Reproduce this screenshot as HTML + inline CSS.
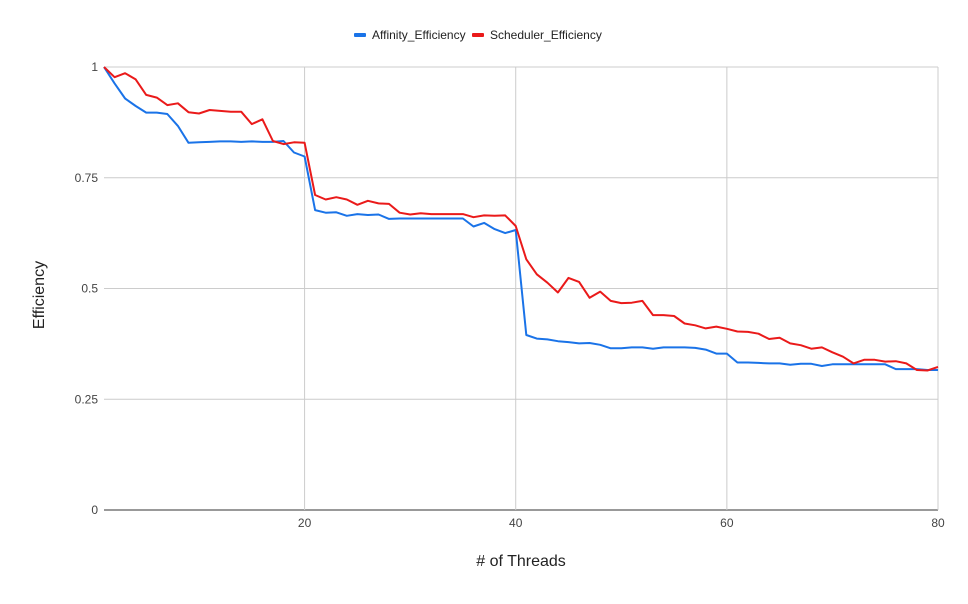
<!DOCTYPE html>
<html><head><meta charset="utf-8"><style>
body{margin:0;background:#fff;font-family:"Liberation Sans",Arial,sans-serif}
</style></head><body>
<svg id="chart" width="968" height="599" xmlns="http://www.w3.org/2000/svg" font-family="Liberation Sans, Arial, sans-serif">
<rect width="968" height="599" fill="#fff"/>
<g id="legend">
 <g><rect x="354" y="33" width="12" height="4" fill="#1a73e8" rx="1"/><text x="372" y="39" font-size="12" fill="#222">Affinity_Efficiency</text></g>
 <g><rect x="472" y="33" width="12" height="4" fill="#ea1a1a" rx="1"/><text x="490" y="39" font-size="12" fill="#222">Scheduler_Efficiency</text></g>
</g>
<g id="grid"></g>
<g id="series"></g>
<text transform="translate(44,295) rotate(-90)" text-anchor="middle" font-size="16" fill="#222">Efficiency</text>
<text x="521" y="566" text-anchor="middle" font-size="16" fill="#222"># of Threads</text>
</svg>
<script>
const xs=[];for(let i=1;i<=80;i++)xs.push(i);
const affinity=[1.0,0.963,0.929,0.912,0.897,0.897,0.894,0.867,0.829,0.83,0.831,0.832,0.832,0.831,0.832,0.831,0.831,0.833,0.807,0.798,
0.677,0.671,0.672,0.664,0.668,0.666,0.667,0.657,0.658,0.658,0.658,0.658,0.658,0.658,0.658,0.640,0.648,0.634,0.625,0.632,
0.395,0.387,0.385,0.381,0.379,0.376,0.377,0.373,0.365,0.365,0.367,0.367,0.364,0.367,0.367,0.367,0.366,0.362,0.353,0.353,
0.333,0.333,0.332,0.331,0.331,0.328,0.330,0.330,0.325,0.329,0.329,0.329,0.329,0.329,0.329,0.318,0.318,0.318,0.316,0.316];
const scheduler=[1.0,0.977,0.986,0.972,0.937,0.931,0.914,0.918,0.898,0.895,0.903,0.901,0.899,0.899,0.871,0.882,0.833,0.826,0.83,0.829,
0.711,0.701,0.706,0.701,0.689,0.698,0.692,0.691,0.671,0.667,0.670,0.668,0.668,0.668,0.668,0.661,0.665,0.664,0.665,0.641,
0.566,0.532,0.513,0.491,0.524,0.515,0.479,0.493,0.472,0.467,0.468,0.472,0.440,0.440,0.438,0.421,0.417,0.410,0.414,0.409,
0.403,0.402,0.398,0.386,0.389,0.376,0.372,0.364,0.367,0.356,0.346,0.331,0.339,0.339,0.335,0.336,0.331,0.316,0.315,0.323];
const yTicks=[0,0.25,0.5,0.75,1];
const yTickLabels=["0","0.25","0.5","0.75","1"];
const xTicks=[20,40,60,80];
const xTickLabels=["20","40","60","80"];
const X0=104,X1=938,Y0=510,Y1=67;
const sx=v=>X0+(v-1)/(80-1)*(X1-X0);
const sy=v=>Y0-v*(Y0-Y1);
const NS="http://www.w3.org/2000/svg";
const grid=document.getElementById('grid'),ser=document.getElementById('series');
function mk(tag,attrs,parent){const e=document.createElementNS(NS,tag);for(const k in attrs)e.setAttribute(k,attrs[k]);parent.appendChild(e);return e;}
yTicks.forEach((t,i)=>{
 const l=mk('line',{x1:X0,x2:X1,y1:sy(t),y2:sy(t),stroke:t===0?'#333':'#ccc','stroke-width':1},grid);
 
 
 const tx=mk('text',{x:98,y:sy(t)+4,'text-anchor':'end','font-size':12,fill:'#444'},grid);
 tx.textContent=yTickLabels[i];
 
 
});
xTicks.forEach((t,i)=>{
 const l=mk('line',{x1:sx(t),x2:sx(t),y1:Y1,y2:Y0,stroke:'#ccc','stroke-width':1},grid);
 
 
 const tx=mk('text',{x:sx(t),y:527,'text-anchor':'middle','font-size':12,fill:'#444'},grid);
 tx.textContent=xTickLabels[i];
 
 
});
function line(vals,color,name){
 const d=vals.map((v,i)=>(i?'L':'M')+sx(xs[i]).toFixed(1)+','+sy(v).toFixed(1)).join('');
 const p=mk('path',{d:d,fill:'none',stroke:color,'stroke-width':2,'stroke-linejoin':'round'},ser);
 
 
}
line(affinity,'#1a73e8','affinity-efficiency-line');
line(scheduler,'#ea1a1a','scheduler-efficiency-line');
</script>
</body></html>
